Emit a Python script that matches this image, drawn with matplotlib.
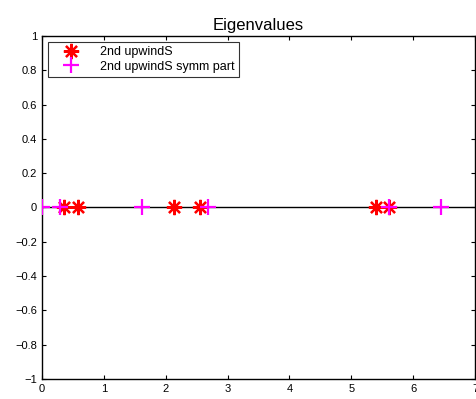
import matplotlib
matplotlib.use("Agg")
import matplotlib.pyplot as plt
import numpy as np

upwind_re = [0.35, 0.58, 2.14, 2.55, 5.40, 5.61]
upwind_im = [0, 0, 0, 0, 0, 0]
symm_re = [0.0, 0.29, 1.62, 2.68, 5.61, 6.45]
symm_im = [0, 0, 0, 0, 0, 0]
xticks = [0, 1, 2, 3, 4, 5, 6, 7]
yticks = np.round(np.arange(-1, 1.01, 0.2), 1)


def fmt(v):
    s = "0" if v == 0 else f"{v:g}"
    return s.replace("-", "\u2212")


plt.rcParams["font.family"] = ["Liberation Sans", "DejaVu Sans"]

fig = plt.figure(figsize=(4.77, 3.99), dpi=100)
ax = fig.add_axes([0.088, 0.050, 0.908, 0.860])

ax.plot([0, 7], [0, 0], color="black", lw=1.0, zorder=1)
ax.plot(upwind_re, upwind_im, linestyle="none", marker=(8, 2, 0), ms=11,
        mew=1.6, color="red", label="2nd upwindS", zorder=3)
ax.plot(symm_re, symm_im, linestyle="none", marker="+", ms=12,
        mew=1.6, color="magenta", label="2nd upwindS symm part", zorder=3)

ax.set_xlim(0, 7)
ax.set_ylim(-1, 1)
ax.set_xticks(xticks)
ax.set_yticks(yticks)
ax.set_xticklabels([str(t) for t in xticks])
ax.set_yticklabels([fmt(v) for v in yticks])
ax.tick_params(direction="in", labelsize=8, length=3, top=True, right=True,
               labeltop=False, labelright=False)
for s in ax.spines.values():
    s.set_linewidth(1.0)
ax.set_title("Eigenvalues", fontsize=12, pad=4)

leg = ax.legend(loc="upper left", fontsize=9, frameon=True, fancybox=False,
                edgecolor="black", borderpad=0.35, labelspacing=0.2,
                handlelength=2.9, handletextpad=0.9, borderaxespad=0.4,
                numpoints=1, bbox_to_anchor=(0.003, 0.997))
leg.get_frame().set_linewidth(0.8)

fig.savefig("out.png", dpi=100)
